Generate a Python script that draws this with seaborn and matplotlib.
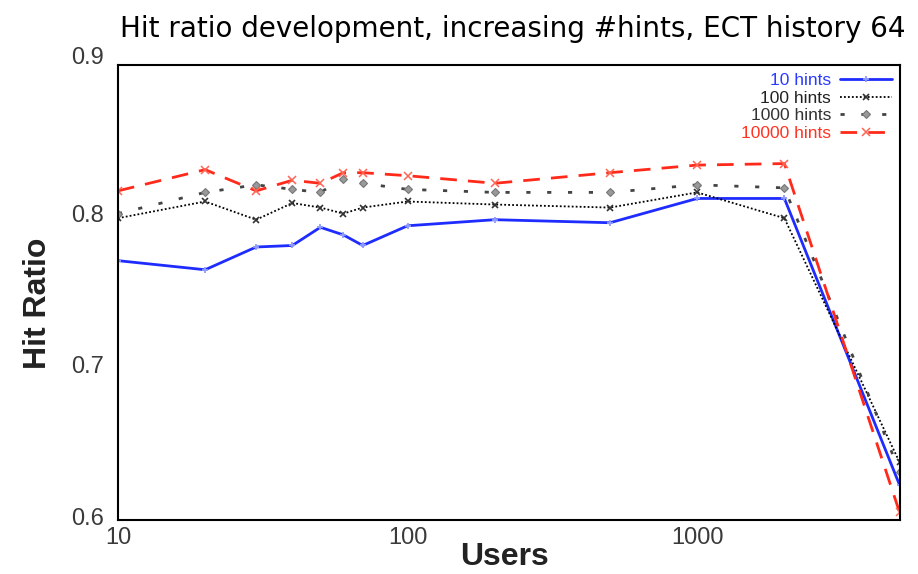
import matplotlib
matplotlib.use("Agg")
import matplotlib.pyplot as plt
import matplotlib.transforms as mtransforms
import seaborn as sns
import pandas as pd

users = [10, 20, 30, 40, 50, 60, 70, 100, 200, 500, 1000, 2000, 5000]

hints_10 = [0.771, 0.765, 0.780, 0.781, 0.793, 0.788, 0.781, 0.794, 0.798, 0.796, 0.812, 0.812, 0.623]
hints_100 = [0.799, 0.810, 0.798, 0.809, 0.806, 0.802, 0.806, 0.810, 0.808, 0.806, 0.816, 0.799, 0.638]
hints_1000 = [0.802, 0.816, 0.821, 0.818, 0.816, 0.825, 0.822, 0.818, 0.816, 0.816, 0.821, 0.819, 0.632]
hints_10000 = [0.817, 0.831, 0.817, 0.824, 0.822, 0.829, 0.829, 0.827, 0.822, 0.829, 0.834, 0.835, 0.605]

series_labels = ["10 hints", "100 hints", "1000 hints", "10000 hints"]
y_ticks = [0.6, 0.7, 0.8, 0.9]
x_ticks = [10, 100, 1000]

sns.set_style("white")
plt.rcParams["font.family"] = ["Liberation Sans", "DejaVu Sans"]

fig = plt.figure(figsize=(9.18, 5.74), dpi=100)
ax = fig.add_axes([0.1285, 0.094, 0.8515, 0.7928])

styles = [
    dict(color="#1f2cff", linestyle="-", linewidth=2.0, marker="+", markersize=5,
         markeredgewidth=1.3, markeredgecolor="#8f9cff"),
    dict(color="black", linestyle=(0, (1, 1.2)), linewidth=1.3, marker="x", markersize=5,
         markeredgewidth=1.2, markeredgecolor="#333333"),
    dict(color="#444444", linestyle=(0, (1.5, 6)), linewidth=2.0, marker="D", markersize=4,
         markeredgewidth=0.8, markerfacecolor="#999999", markeredgecolor="#777777"),
    dict(color="#ff2a1a", linestyle=(0, (6, 4)), linewidth=2.0, marker="x", markersize=6,
         markeredgewidth=1.1, markeredgecolor="#ff6655"),
]
text_colors = ["#2a3cff", "#222222", "#333333", "#ff3322"]

for vals, lab, st in zip([hints_10, hints_100, hints_1000, hints_10000], series_labels, styles):
    df = pd.DataFrame({"Users": users, "Hit Ratio": vals})
    sns.lineplot(data=df, x="Users", y="Hit Ratio", ax=ax, label=lab, **st)

ax.set_xscale("log")
ax.set_xlim(10, 5000)
ax.set_ylim(0.6, 0.9)
ax.set_xticks(x_ticks)
ax.set_xticklabels([str(t) for t in x_ticks])
ax.minorticks_off()
ax.set_yticks(y_ticks)
ax.set_yticklabels([f"{t:.1f}" for t in y_ticks])
ax.tick_params(axis="both", direction="in", length=6, width=1.0, colors="black",
               labelsize=17, labelcolor="#3a3a3a")
ax.tick_params(axis="x", pad=5)
ax.tick_params(axis="y", pad=10)

# y tick labels sit a little above their ticks; the top one clears the frame
for lbl, t in zip(ax.get_yticklabels(), y_ticks):
    dy = 7 if t == 0.9 else 2.5
    lift = mtransforms.ScaledTranslation(0, dy / 72, fig.dpi_scale_trans)
    lbl.set_transform(lbl.get_transform() + lift)

for sp in ax.spines.values():
    sp.set_color("black")
    sp.set_linewidth(1.5)

ax.set_xlabel("Users", fontsize=23, fontweight="bold", color="#222222")
ax.xaxis.set_label_coords(0.495, -0.048)
ax.set_ylabel("Hit Ratio", fontsize=23, fontweight="bold", color="#222222")
ax.yaxis.set_label_coords(-0.083, 0.477)

leg = ax.legend(loc="upper right", frameon=False, fontsize=12.5, markerfirst=False,
                handlelength=3.0, labelspacing=0.15, borderaxespad=0.05, handletextpad=0.5)
for txt, c in zip(leg.get_texts(), text_colors):
    txt.set_color(c)

fig.text(0.986, 0.973, "Hit ratio development, increasing #hints, ECT history 64",
         ha="right", va="top", fontsize=20, family="DejaVu Sans", color="black")

fig.savefig("out.png", dpi=100)
